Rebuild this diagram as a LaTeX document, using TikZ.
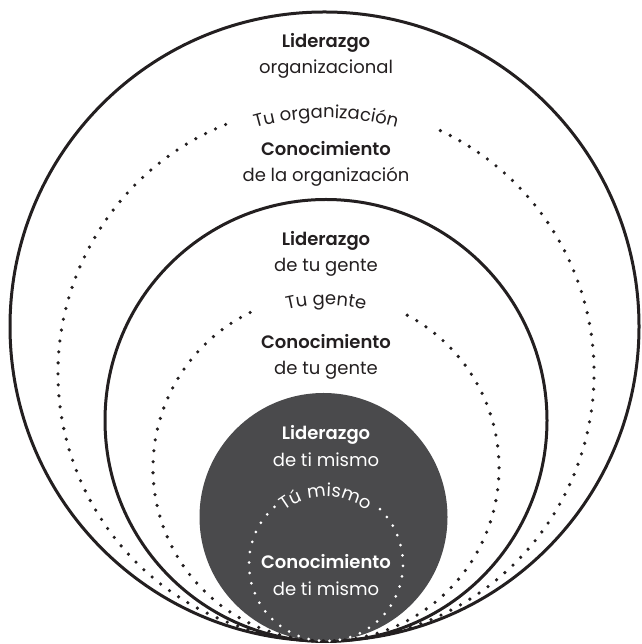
\documentclass[tikz,border=0pt]{standalone}
\usepackage{fontspec}
\setmainfont{Poppins}[BoldFont={Poppins SemiBold}]
\usetikzlibrary{decorations.text, positioning}
\definecolor{ink}{HTML}{231F20}
\definecolor{slate}{HTML}{4A4A4C}
\tikzstyle{ring} = [draw=ink, line width=3pt]
\tikzstyle{dots} = [draw=ink, line width=3.6pt, line cap=round, dash pattern=on 0pt off 11pt]
\tikzstyle{whitedots} = [draw=white, line width=3pt, line cap=round, dash pattern=on 0pt off 10.5pt]
\tikzstyle{title} = [anchor=base, inner sep=0, text=ink, font=\fontsize{18}{22}\selectfont\bfseries]
\tikzstyle{plain} = [anchor=base, inner sep=0, text=ink, font=\fontsize{18}{22}\selectfont]

\begin{document}
\begin{tikzpicture}[x=1pt, y=1pt]
				\useasboundingbox (0, 0) rectangle (641, 644);

				% circle centres
				\coordinate (OrgC) at (324.5, 317.5);
				\coordinate (PeopleC) at (326, 223.5);
				\coordinate (SelfC) at (323.5, 127);
				\coordinate (OrgDotC) at (326, 271);
				\coordinate (PeopleDotC) at (326, 176);
				\coordinate (SelfDotC) at (326, 80);

				% rings
				\draw [ring] (OrgC) circle [radius=314.5];
				\draw [ring] (PeopleC) circle [radius=221];
				\fill [slate] (SelfC) circle [radius=124];

				% dotted rings
				\draw [dots] (OrgDotC) ++(112:268) arc [start angle=112, end angle=427, radius=268];
				\draw [dots] (PeopleDotC) ++(116:173) arc [start angle=116, end angle=423, radius=173];
				\draw [whitedots] (SelfDotC) ++(132:77) arc [start angle=132, end angle=407, radius=77];

				% curved labels
				\path [decorate, decoration={text along path, text align=center,
					text={|\fontsize{18}{22}\selectfont\color{ink}|Tu organización}}]
					(OrgDotC) ++(135:255) arc [start angle=135, end angle=45, radius=255];
				\path [decorate, decoration={text along path, text align=center,
					text={|\fontsize{18}{22}\selectfont\color{ink}|Tu gente}}]
					(PeopleDotC) ++(140:163) arc [start angle=140, end angle=40, radius=163];
				\path [decorate, decoration={text along path, text align=center,
					text={|\fontsize{18}{22}\selectfont\color{white}|Tú mismo}}]
					(SelfDotC) ++(160:67) arc [start angle=160, end angle=20, radius=67];

				% organization
				\node (OrgLead) [title] at (326, 596) {Liderazgo};
				\node (OrgLead2) [plain] at (326, 570) {organizacional};
				\node (OrgKnow) [title] at (326, 488) {Conocimiento};
				\node (OrgKnow2) [plain] at (326, 462) {de la organización};

				% people
				\node (PeopleLead) [title] at (326, 398) {Liderazgo};
				\node (PeopleLead2) [plain] at (326, 372) {de tu gente};
				\node (PeopleKnow) [title] at (326, 295) {Conocimiento};
				\node (PeopleKnow2) [plain] at (326, 269) {de tu gente};

				% self
				\node (SelfLead) [title, text=white] at (326, 204) {Liderazgo};
				\node (SelfLead2) [plain, text=white] at (326, 177) {de ti mismo};
				\node (SelfKnow) [title, text=white] at (326, 75) {Conocimiento};
				\node (SelfKnow2) [plain, text=white] at (326, 48) {de ti mismo};
\end{tikzpicture}
\end{document}
